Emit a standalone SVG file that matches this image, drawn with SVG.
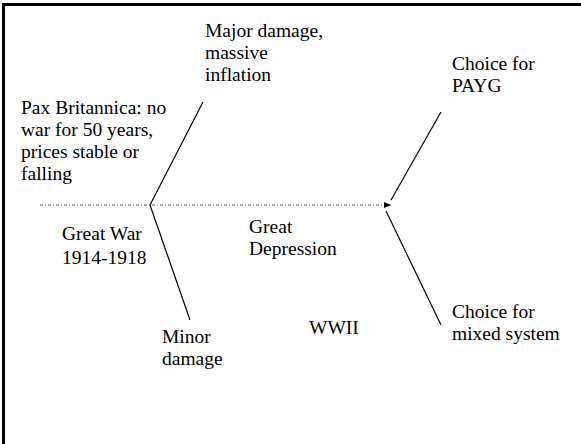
<svg xmlns="http://www.w3.org/2000/svg" width="581" height="444" viewBox="0 0 581 444">
<style>
text{font-family:"Liberation Serif","Times New Roman",serif;font-size:19.5px;fill:#000}
.ln{stroke:#000;stroke-width:1.2;fill:none}
.dot{stroke:#555;stroke-width:1;stroke-dasharray:3 2 1 2;fill:none}
</style>
<defs>
<marker id="ah" markerWidth="8" markerHeight="6" refX="7" refY="3" orient="auto" markerUnits="userSpaceOnUse">
<path d="M0,0 L7,3 L0,6 z" fill="#000"/>
</marker>
</defs>
<rect width="581" height="444" fill="#fff"/>
<g id="frame">
<line x1="3.5" y1="3" x2="3.5" y2="444" stroke="#000" stroke-width="3"/>
<line x1="2" y1="4.5" x2="581" y2="4.5" stroke="#000" stroke-width="3"/>
</g>
<g id="connectors">
<line class="dot" x1="40" y1="205" x2="391" y2="205" marker-end="url(#ah)"/>
<line class="ln" x1="150" y1="205" x2="203" y2="102"/>
<line class="ln" x1="150" y1="205" x2="190" y2="320"/>
<line class="ln" x1="441" y1="112" x2="391" y2="200"/>
<line class="ln" x1="386" y1="211" x2="441" y2="325"/>
</g>
<g id="pax"><text x="21" y="114">Pax Britannica: no</text><text x="21" y="136">war for 50 years,</text><text x="21" y="158">prices stable or</text><text x="21" y="180">falling</text></g>
<g id="major"><text x="205" y="37">Major damage,</text><text x="205" y="59">massive</text><text x="205" y="81">inflation</text></g>
<g id="greatwar"><text x="62" y="240">Great War</text><text x="62" y="264">1914-1918</text></g>
<g id="minor"><text x="162" y="343">Minor</text><text x="162" y="365">damage</text></g>
<g id="depression"><text x="249" y="233">Great</text><text x="249" y="255">Depression</text></g>
<g id="wwii"><text x="309" y="334">WWII</text></g>
<g id="payg"><text x="452" y="70">Choice for</text><text x="452" y="92">PAYG</text></g>
<g id="mixed"><text x="452" y="318">Choice for</text><text x="452" y="340">mixed system</text></g>
</svg>
